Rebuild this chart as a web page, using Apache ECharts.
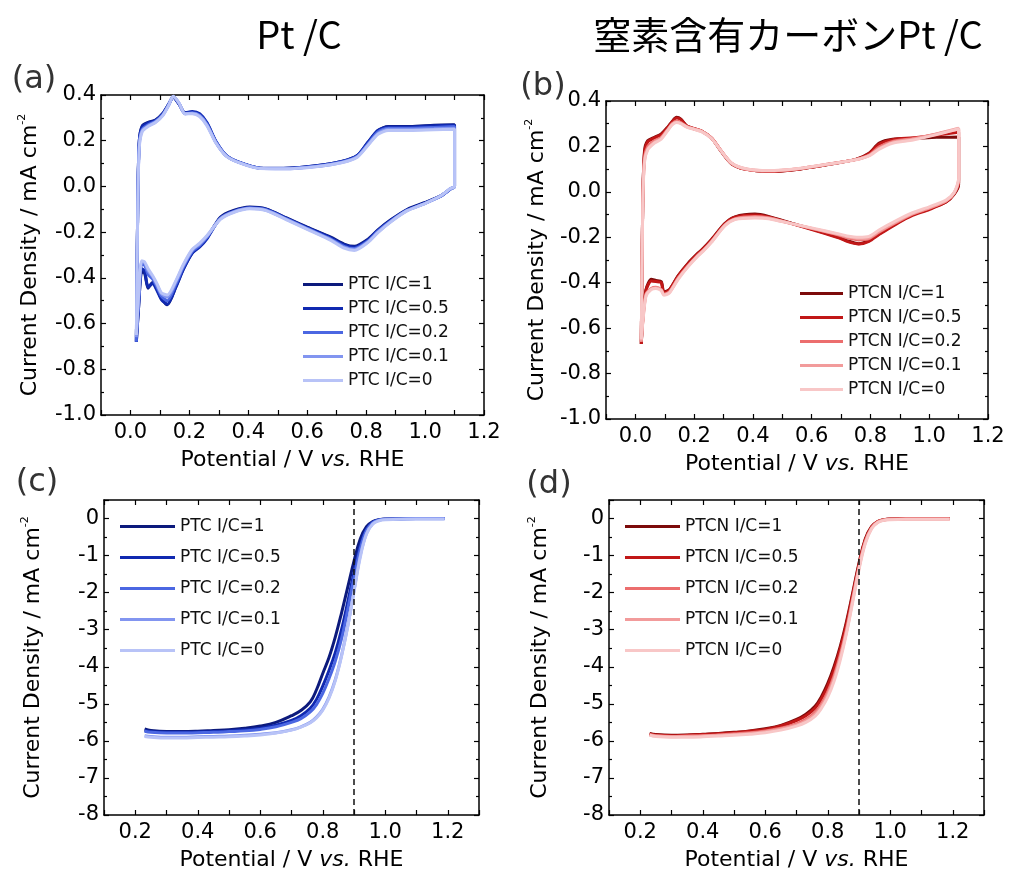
<!DOCTYPE html>
<html>
<head>
<meta charset="utf-8">
<script src="https://cdn.jsdelivr.net/npm/echarts@6/dist/echarts.min.js"></script>
<style>
  html, body { margin: 0; padding: 0; background: #fff; }
  #chart { width: 1009px; height: 872px; }
</style>
</head>
<body>
<div id="chart"></div>
<script>
// ---------- data ----------
// CV potentials for Pt/C (anodic sweep 0.02 -> 1.10, then cathodic 1.10 -> 0.02)
const cvPotA = [
  0.020, 0.025, 0.030, 0.040, 0.060, 0.085, 0.110, 0.130, 0.145, 0.165, 0.185, 0.210, 0.235, 0.260,
  0.290, 0.325, 0.370, 0.440, 0.520, 0.630, 0.720, 0.770, 0.805, 0.840, 0.875, 0.950, 1.030, 1.100,
  1.100, 1.085, 1.055, 1.000, 0.940, 0.885, 0.840, 0.805, 0.760, 0.725, 0.680, 0.600, 0.530, 0.460,
  0.405, 0.350, 0.305, 0.260, 0.235, 0.210, 0.180, 0.155, 0.125, 0.105, 0.090, 0.075, 0.060, 0.048,
  0.038, 0.028, 0.020
];
const ptc1 = [
  -0.68, -0.05, 0.20, 0.265, 0.280, 0.290, 0.320, 0.360, 0.390, 0.360, 0.322, 0.325, 0.315, 0.275,
  0.195, 0.135, 0.105, 0.080, 0.078, 0.090, 0.110, 0.135, 0.190, 0.245, 0.262, 0.262, 0.268, 0.270,
  0.000, -0.012, -0.040, -0.070, -0.100, -0.145, -0.190, -0.232, -0.262, -0.252, -0.222, -0.178, -0.138, -0.098,
  -0.090, -0.105, -0.135, -0.225, -0.262, -0.290, -0.360, -0.435, -0.518, -0.490, -0.450, -0.420, -0.445, -0.380,
  -0.375, -0.520, -0.680
];
const ptc05 = [
  -0.68, -0.05, 0.20, 0.262, 0.278, 0.288, 0.318, 0.360, 0.392, 0.360, 0.322, 0.328, 0.318, 0.278,
  0.198, 0.136, 0.105, 0.080, 0.079, 0.090, 0.110, 0.135, 0.192, 0.245, 0.260, 0.260, 0.266, 0.268,
  0.000, -0.012, -0.040, -0.072, -0.102, -0.147, -0.192, -0.235, -0.265, -0.255, -0.225, -0.180, -0.140, -0.100,
  -0.092, -0.108, -0.138, -0.228, -0.265, -0.292, -0.362, -0.438, -0.515, -0.495, -0.455, -0.425, -0.440, -0.370,
  -0.360, -0.520, -0.680
];
const ptc02 = [
  -0.68, -0.06, 0.19, 0.250, 0.270, 0.285, 0.315, 0.358, 0.392, 0.362, 0.318, 0.322, 0.312, 0.272,
  0.195, 0.135, 0.105, 0.080, 0.078, 0.088, 0.108, 0.132, 0.185, 0.238, 0.255, 0.255, 0.258, 0.262,
  0.000, -0.012, -0.042, -0.074, -0.104, -0.150, -0.196, -0.240, -0.272, -0.262, -0.230, -0.184, -0.142, -0.102,
  -0.094, -0.110, -0.140, -0.222, -0.258, -0.284, -0.352, -0.425, -0.500, -0.480, -0.440, -0.405, -0.385, -0.345,
  -0.340, -0.500, -0.660
];
const ptc01 = [
  -0.66, -0.06, 0.18, 0.245, 0.265, 0.282, 0.312, 0.356, 0.394, 0.364, 0.318, 0.320, 0.308, 0.268,
  0.192, 0.134, 0.104, 0.079, 0.077, 0.087, 0.106, 0.130, 0.180, 0.232, 0.250, 0.250, 0.252, 0.255,
  0.000, -0.010, -0.040, -0.074, -0.105, -0.152, -0.200, -0.244, -0.276, -0.266, -0.233, -0.186, -0.144, -0.104,
  -0.096, -0.112, -0.142, -0.218, -0.252, -0.278, -0.345, -0.415, -0.485, -0.470, -0.430, -0.395, -0.370, -0.335,
  -0.330, -0.480, -0.640
];
const ptc0 = [
  -0.65, -0.07, 0.17, 0.240, 0.262, 0.280, 0.310, 0.355, 0.395, 0.365, 0.318, 0.318, 0.305, 0.265,
  0.190, 0.133, 0.103, 0.078, 0.077, 0.086, 0.105, 0.128, 0.178, 0.228, 0.245, 0.245, 0.248, 0.250,
  0.000, -0.010, -0.040, -0.075, -0.106, -0.154, -0.202, -0.246, -0.280, -0.270, -0.236, -0.188, -0.146, -0.106,
  -0.098, -0.114, -0.144, -0.215, -0.248, -0.275, -0.340, -0.410, -0.475, -0.465, -0.425, -0.390, -0.360, -0.330,
  -0.325, -0.470, -0.650
];

// CV potentials for N-doped carbon Pt/C
const cvPotB = [
  0.020, 0.025, 0.031, 0.042, 0.065, 0.088, 0.110, 0.125, 0.140, 0.155, 0.175, 0.200, 0.225, 0.260,
  0.293, 0.327, 0.373, 0.453, 0.555, 0.670, 0.750, 0.795, 0.830, 0.875, 0.945, 1.025, 1.100,
  1.100, 1.085, 1.057, 1.000, 0.943, 0.886, 0.829, 0.795, 0.760, 0.720, 0.692, 0.612, 0.532, 0.453,
  0.407, 0.339, 0.304, 0.259, 0.230, 0.213, 0.179, 0.145, 0.116, 0.097, 0.088, 0.070, 0.054, 0.036,
  0.025, 0.020
];
const ptcn1 = [
  -0.67, -0.05, 0.18, 0.225, 0.240, 0.255, 0.285, 0.310, 0.328, 0.320, 0.290, 0.278, 0.268, 0.235,
  0.176, 0.124, 0.100, 0.090, 0.100, 0.124, 0.143, 0.170, 0.215, 0.232, 0.235, 0.240, 0.242,
  0.030, -0.010, -0.045, -0.075, -0.100, -0.140, -0.185, -0.215, -0.228, -0.215, -0.200, -0.168, -0.138, -0.108,
  -0.098, -0.110, -0.140, -0.210, -0.250, -0.270, -0.315, -0.370, -0.430, -0.440, -0.395, -0.390, -0.385, -0.430,
  -0.560, -0.670
];
const ptcn05 = [
  -0.67, -0.05, 0.17, 0.220, 0.238, 0.252, 0.283, 0.308, 0.325, 0.318, 0.290, 0.278, 0.268, 0.236,
  0.178, 0.125, 0.100, 0.090, 0.100, 0.124, 0.143, 0.168, 0.210, 0.230, 0.238, 0.250, 0.262,
  0.040, -0.008, -0.045, -0.078, -0.104, -0.143, -0.188, -0.218, -0.230, -0.218, -0.202, -0.170, -0.140, -0.110,
  -0.102, -0.112, -0.142, -0.212, -0.252, -0.272, -0.318, -0.372, -0.432, -0.445, -0.400, -0.395, -0.392, -0.435,
  -0.565, -0.670
];
const ptcn02 = [
  -0.66, -0.06, 0.15, 0.200, 0.225, 0.240, 0.275, 0.300, 0.312, 0.305, 0.288, 0.278, 0.268, 0.236,
  0.178, 0.126, 0.101, 0.092, 0.102, 0.125, 0.142, 0.162, 0.198, 0.222, 0.235, 0.255, 0.275,
  0.050, -0.005, -0.040, -0.072, -0.098, -0.136, -0.178, -0.206, -0.212, -0.202, -0.190, -0.165, -0.140, -0.114,
  -0.108, -0.118, -0.146, -0.218, -0.258, -0.278, -0.325, -0.380, -0.440, -0.450, -0.430, -0.420, -0.425, -0.450,
  -0.570, -0.660
];
const ptcn01 = [
  -0.66, -0.06, 0.14, 0.190, 0.220, 0.236, 0.272, 0.298, 0.308, 0.302, 0.286, 0.276, 0.266, 0.235,
  0.178, 0.126, 0.102, 0.093, 0.102, 0.125, 0.142, 0.160, 0.192, 0.218, 0.232, 0.255, 0.280,
  0.055, -0.005, -0.040, -0.070, -0.096, -0.133, -0.174, -0.202, -0.206, -0.198, -0.188, -0.164, -0.140, -0.116,
  -0.112, -0.120, -0.148, -0.220, -0.260, -0.280, -0.328, -0.383, -0.442, -0.452, -0.432, -0.422, -0.428, -0.455,
  -0.575, -0.660
];
const ptcn0 = [
  -0.65, -0.07, 0.13, 0.185, 0.215, 0.232, 0.270, 0.295, 0.305, 0.300, 0.285, 0.275, 0.265, 0.234,
  0.178, 0.127, 0.103, 0.094, 0.103, 0.125, 0.141, 0.158, 0.188, 0.214, 0.228, 0.252, 0.278,
  0.060, -0.002, -0.036, -0.066, -0.092, -0.128, -0.168, -0.196, -0.200, -0.194, -0.185, -0.162, -0.140, -0.118,
  -0.115, -0.122, -0.150, -0.222, -0.262, -0.282, -0.330, -0.386, -0.445, -0.455, -0.435, -0.425, -0.430, -0.460,
  -0.580, -0.650
];

// LSV (ORR) potentials, shared by (c) and (d)
const lsvPot = [0.23, 0.25, 0.30, 0.35, 0.40, 0.45, 0.50, 0.55, 0.60, 0.65, 0.70, 0.73, 0.76, 0.78, 0.80,
  0.82, 0.84, 0.86, 0.88, 0.90, 0.92, 0.94, 0.96, 0.98, 1.00, 1.05, 1.10, 1.15, 1.19];
const lsvPtc1 = [-5.68, -5.72, -5.75, -5.75, -5.74, -5.72, -5.70, -5.66, -5.60, -5.50, -5.32, -5.18, -4.95, -4.62, -4.18,
  -3.75, -3.20, -2.55, -1.85, -1.15, -0.55, -0.22, -0.08, -0.03, -0.01, 0.00, 0.00, 0.00, 0.00];
const lsvPtc05 = [-5.72, -5.75, -5.77, -5.77, -5.76, -5.75, -5.73, -5.70, -5.66, -5.58, -5.45, -5.32, -5.12, -4.88, -4.52,
  -4.10, -3.62, -3.00, -2.25, -1.45, -0.72, -0.28, -0.10, -0.04, -0.02, -0.01, 0.00, 0.00, 0.00];
const lsvPtc02 = [-5.74, -5.77, -5.79, -5.79, -5.78, -5.77, -5.75, -5.73, -5.69, -5.62, -5.50, -5.40, -5.22, -5.02, -4.72,
  -4.32, -3.85, -3.25, -2.45, -1.60, -0.82, -0.32, -0.11, -0.04, -0.02, -0.01, 0.00, 0.00, 0.00];
const lsvPtc01 = [-5.86, -5.88, -5.90, -5.90, -5.89, -5.88, -5.87, -5.85, -5.82, -5.78, -5.70, -5.62, -5.50, -5.36, -5.15,
  -4.82, -4.35, -3.70, -2.90, -1.95, -1.00, -0.40, -0.14, -0.05, -0.02, -0.01, 0.00, 0.00, 0.00];
const lsvPtc0 = [-5.88, -5.90, -5.92, -5.92, -5.91, -5.90, -5.89, -5.87, -5.84, -5.79, -5.71, -5.63, -5.51, -5.38, -5.17,
  -4.85, -4.38, -3.72, -2.92, -1.98, -1.05, -0.42, -0.15, -0.06, -0.03, -0.02, -0.02, -0.02, -0.02];

const lsvPtcn1 = [-5.80, -5.83, -5.85, -5.84, -5.82, -5.80, -5.77, -5.73, -5.67, -5.58, -5.42, -5.28, -5.06, -4.80, -4.45,
  -4.00, -3.45, -2.78, -2.00, -1.20, -0.55, -0.22, -0.08, -0.03, -0.01, 0.00, 0.00, 0.00, 0.00];
const lsvPtcn05 = [-5.81, -5.84, -5.86, -5.85, -5.83, -5.81, -5.78, -5.74, -5.69, -5.60, -5.45, -5.32, -5.11, -4.86, -4.52,
  -4.08, -3.52, -2.84, -2.05, -1.24, -0.58, -0.23, -0.08, -0.03, -0.01, 0.00, 0.00, 0.00, 0.00];
const lsvPtcn02 = [-5.83, -5.86, -5.88, -5.87, -5.86, -5.84, -5.81, -5.78, -5.73, -5.66, -5.54, -5.42, -5.23, -5.00, -4.68,
  -4.25, -3.68, -2.98, -2.15, -1.30, -0.62, -0.25, -0.09, -0.04, -0.02, -0.01, -0.01, -0.01, -0.01];
const lsvPtcn01 = [-5.84, -5.87, -5.89, -5.88, -5.87, -5.85, -5.83, -5.80, -5.75, -5.68, -5.57, -5.46, -5.28, -5.06, -4.75,
  -4.32, -3.75, -3.05, -2.20, -1.34, -0.65, -0.26, -0.10, -0.04, -0.02, -0.01, -0.01, -0.01, -0.01];
const lsvPtcn0 = [-5.85, -5.88, -5.90, -5.90, -5.89, -5.87, -5.85, -5.82, -5.78, -5.71, -5.60, -5.50, -5.33, -5.12, -4.82,
  -4.40, -3.82, -3.10, -2.25, -1.38, -0.68, -0.28, -0.11, -0.05, -0.03, -0.02, -0.02, -0.02, -0.02];

const ptcNames = ['PTC I/C=1', 'PTC I/C=0.5', 'PTC I/C=0.2', 'PTC I/C=0.1', 'PTC I/C=0'];
const ptcnNames = ['PTCN I/C=1', 'PTCN I/C=0.5', 'PTCN I/C=0.2', 'PTCN I/C=0.1', 'PTCN I/C=0'];
const blues = ['#0c1a7c', '#1029b0', '#4b67e2', '#8295f0', '#b8c3f7'];
const reds = ['#7c0b0b', '#c11717', '#ec6e6e', '#f29b9b', '#f8c7c7'];
const lsvMark = 0.9;

// ---------- chart ----------
const FONT = 'DejaVu Sans';
const chart = echarts.init(document.getElementById('chart'), null, { renderer: 'canvas' });

const lineAxis = { onZero: false, lineStyle: { color: '#000', width: 1.5 } };
const tick = { inside: true, length: 5, lineStyle: { color: '#000', width: 1.2 } };

const xLabel = v => (Math.round(v * 10) % 2 === 0 ? (Math.round(v * 10) / 10).toFixed(1) : '');
const yName = '{a|Current Density / mA cm}{s|-2}';
const xName = '{n|Potential / V }{i|vs.}{n| RHE}';
const nameStyle = {
  fontFamily: FONT, fontSize: 22, color: '#000',
  rich: {
    a: { fontFamily: FONT, fontSize: 22, lineHeight: 26, color: '#000' },
    s: { fontFamily: FONT, fontSize: 11, lineHeight: 12, verticalAlign: 'top', color: '#000' },
    n: { fontFamily: FONT, fontSize: 22, color: '#000' },
    i: { fontFamily: FONT, fontSize: 22, fontStyle: 'italic', color: '#000' }
  }
};

function xPair(gi, min, max) {
  const base = { gridIndex: gi, type: 'value', min, max, interval: 0.1,
    axisLine: lineAxis, axisTick: tick, splitLine: { show: false } };
  return [
    { ...base, position: 'bottom', name: xName, nameLocation: 'middle', nameGap: 34, nameTextStyle: nameStyle,
      axisLabel: { margin: 7, fontFamily: FONT, fontSize: 21, color: '#000', formatter: xLabel } },
    { ...base, position: 'top', axisLabel: { show: false } }
  ];
}
function yPair(gi, min, max, interval, fmt, gap) {
  const base = { gridIndex: gi, type: 'value', min, max, interval,
    axisLine: lineAxis, axisTick: tick, splitLine: { show: false },
    minorTick: { show: true, splitNumber: 2, length: 3, lineStyle: { color: '#000', width: 1.2 } },
    minorSplitLine: { show: false } };
  return [
    { ...base, position: 'left', name: yName, nameLocation: 'middle', nameGap: gap, nameTextStyle: nameStyle,
      axisLabel: { margin: 5, fontFamily: FONT, fontSize: 21, color: '#000', formatter: fmt } },
    { ...base, position: 'right', axisLabel: { show: false } }
  ];
}
const cvFmt = v => v.toFixed(1);
const lsvFmt = v => (Number.isInteger(v) ? String(v) : '');

function makeSeries(gi, xs, ys, name, color, smooth) {
  return {
    name, type: 'line', xAxisIndex: gi * 2, yAxisIndex: gi * 2,
    data: xs.map((x, i) => [x, ys[i]]),
    symbol: 'none', smooth, lineStyle: { width: 3, color }, itemStyle: { color }
  };
}

const series = [];
[ptc1, ptc05, ptc02, ptc01, ptc0].forEach((ys, k) =>
  series.push(makeSeries(0, cvPotA, ys, ptcNames[k], blues[k], 0.25)));
[ptcn1, ptcn05, ptcn02, ptcn01, ptcn0].forEach((ys, k) =>
  series.push(makeSeries(1, cvPotB, ys, ptcnNames[k], reds[k], 0.25)));
[lsvPtc1, lsvPtc05, lsvPtc02, lsvPtc01, lsvPtc0].forEach((ys, k) =>
  series.push(makeSeries(2, lsvPot, ys, ptcNames[k], blues[k], 0.4)));
[lsvPtcn1, lsvPtcn05, lsvPtcn02, lsvPtcn01, lsvPtcn0].forEach((ys, k) =>
  series.push(makeSeries(3, lsvPot, ys, ptcnNames[k], reds[k], 0.4)));

const dashed = {
  silent: true, symbol: 'none', label: { show: false },
  lineStyle: { color: '#111', type: [6, 4], width: 1.5 },
  data: [{ xAxis: lsvMark }]
};
series[10].markLine = dashed;
series[15].markLine = dashed;

function legend(names, left, top, w, gap) {
  return {
    data: names, orient: 'vertical', left, top, padding: 0, icon: 'rect',
    itemWidth: w, itemHeight: 3, itemGap: gap, selectedMode: false,
    textStyle: { fontFamily: FONT, fontSize: 17, color: '#111', lineHeight: 17 }
  };
}

function label(text, x, y, font, size, color) {
  return { type: 'text', x, y, style: { text, fontFamily: font, fontSize: size, fill: color,
    align: 'center', verticalAlign: 'middle' } };
}

const option = {
  backgroundColor: '#fff',
  animation: false,
  grid: [
    { left: 101, top: 95, width: 383, height: 320, containLabel: false, outerBoundsMode: 'none' },
    { left: 606, top: 101, width: 382, height: 318, containLabel: false, outerBoundsMode: 'none' },
    { left: 104, top: 500, width: 375, height: 315, containLabel: false, outerBoundsMode: 'none' },
    { left: 609, top: 500, width: 375, height: 315, containLabel: false, outerBoundsMode: 'none' }
  ],
  xAxis: [...xPair(0, -0.1, 1.2), ...xPair(1, -0.1, 1.2), ...xPair(2, 0.1, 1.3), ...xPair(3, 0.1, 1.3)],
  yAxis: [
    ...yPair(0, -1.0, 0.4, 0.2, cvFmt, 58), ...yPair(1, -1.0, 0.4, 0.2, cvFmt, 56),
    ...yPair(2, -8, 0.5, 1, lsvFmt, 58), ...yPair(3, -8, 0.5, 1, lsvFmt, 56)
  ],
  legend: [
    legend(ptcNames, 303, 276, 40, 7),
    legend(ptcnNames, 800, 285, 43, 7),
    legend(ptcNames, 120, 518, 55, 14),
    legend(ptcnNames, 625, 518, 55, 14)
  ],
  graphic: [
    label('Pt /C', 299, 35, 'Noto Sans CJK JP', 38, '#000'),
    label('窒素含有カーボンPt /C', 788, 35, 'Noto Sans CJK JP', 38, '#000'),
    label('(a)', 34, 80, FONT, 32, '#333'),
    label('(b)', 543, 87, FONT, 32, '#333'),
    label('(c)', 37, 483, FONT, 32, '#333'),
    label('(d)', 549, 485, FONT, 32, '#333')
  ],
  series
};

chart.setOption(option);
window.addEventListener('resize', chart.resize);
</script>
</body>
</html>
